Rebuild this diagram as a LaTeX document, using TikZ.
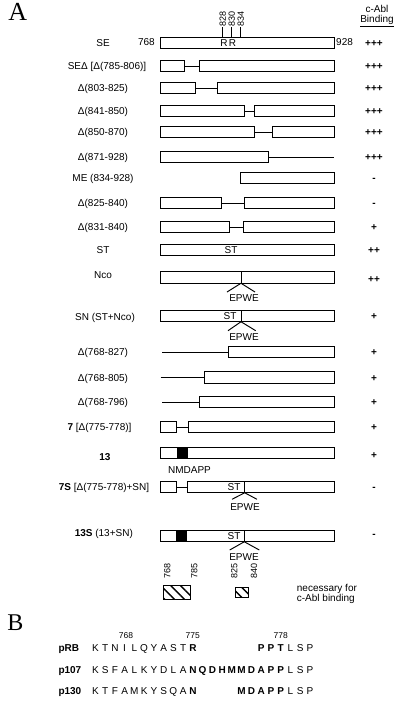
\documentclass[tikz,border=0pt]{standalone}
\usepackage{fontspec}
\setmainfont{Liberation Sans}
\newfontfamily\panelfont{Liberation Serif}
\usetikzlibrary{patterns.meta}
\tikzstyle{seg} = [rectangle, draw, line width=0.95pt, minimum height=11.5pt,
    inner sep=0pt, outer sep=0pt, anchor=west]
\tikzstyle{blk} = [seg, fill=black]
\tikzstyle{rowlabel} = [font=\fontsize{10}{12}\selectfont, text height=7.2pt,
    text depth=0pt, inner sep=0pt]
\tikzstyle{score} = [rowlabel, font=\fontsize{10}{12}\selectfont\bfseries]
\tikzstyle{resnum} = [font=\fontsize{9}{10}\selectfont, inner sep=0pt,
    rotate=90, anchor=west]
\tikzstyle{seqtext} = [rowlabel, anchor=west]
\tikzstyle{link} = [line width=0.95pt]
\tikzstyle{hatchbox} = [rectangle, draw, line width=0.95pt, inner sep=0pt,
    anchor=north west, pattern={Lines[angle=-45,distance=7pt,line width=1.4pt]}]
\newcommand{\rescol}[1]{\makebox[9.75pt]{#1}}

\begin{document}
\begin{tikzpicture}[x=1pt, y=-1pt]
		\useasboundingbox (0,0) rectangle (400,702);
		% panel letters
		\node [font=\panelfont\fontsize{26}{26}\selectfont, inner sep=0pt] (panelA) at (17.8,12) {A};
		\node [font=\panelfont\fontsize{24}{24}\selectfont, inner sep=0pt] (panelB) at (15.3,622.5) {B};

		% binding header
		\node [rowlabel] (hdrA) at (377,8.5) {c-Abl};
		\node [rowlabel] (hdrB) at (377,19) {\underline{Binding}};

		% SE
		\node [seg, minimum width=174pt] (se) at (160,43) {};
		\node [rowlabel] (seL) at (103,43) {SE};
		\node [rowlabel, anchor=east] (se768) at (155,41.5) {768};
		\node [rowlabel, anchor=west] (se928) at (336,41.5) {928};
		\node [rowlabel] (seR1) at (224,43) {R};
		\node [rowlabel] (seR2) at (232.5,43) {R};
		\node [resnum] (n828) at (222.7,27) {828};
		\node [resnum] (n830) at (231.7,27) {830};
		\node [resnum] (n834) at (240.7,27) {834};
		\draw [line width=0.7pt] (n828.west) -- (n828.west |- se.north);
		\draw [line width=0.7pt] (n830.west) -- (n830.west |- se.north);
		\draw [line width=0.7pt] (n834.west) -- (n834.west |- se.north);
		\node [score] (seB) at (374,43) {+++};

		% SE delta
		\node [seg, minimum width=24.3pt] (sed1) at (160,66) {};
		\node [seg, minimum width=135pt] (sed2) at (199,66) {};
		\draw [link] (sed1) -- (sed2);
		\node [rowlabel] (sedL) at (107,66) {SEΔ [Δ(785-806)]};
		\node [score] (sedB) at (374,66) {+++};

		% delta 803-825
		\node [seg, minimum width=35.3pt] (da1) at (160,88) {};
		\node [seg, minimum width=117pt] (da2) at (217,88) {};
		\draw [link] (da1) -- (da2);
		\node [rowlabel] (daL) at (103,88) {Δ(803-825)};
		\node [score] (daB) at (374,88) {+++};

		% delta 841-850
		\node [seg, minimum width=84pt] (db1) at (160,111) {};
		\node [seg, minimum width=79.3pt] (db2) at (254.7,111) {};
		\draw [link] (db1) -- (db2);
		\node [rowlabel] (dbL) at (103,111) {Δ(841-850)};
		\node [score] (dbB) at (374,111) {+++};

		% delta 850-870
		\node [seg, minimum width=94.3pt] (dc1) at (160,132) {};
		\node [seg, minimum width=61.7pt] (dc2) at (272.3,132) {};
		\draw [link] (dc1) -- (dc2);
		\node [rowlabel] (dcL) at (103,132) {Δ(850-870)};
		\node [score] (dcB) at (374,132) {+++};

		% delta 871-928
		\node [seg, minimum width=108.7pt] (dd1) at (160,157) {};
		\coordinate (ddEnd) at (334,157);
		\draw [link] (dd1) -- (ddEnd);
		\node [rowlabel] (ddL) at (103,157) {Δ(871-928)};
		\node [score] (ddB) at (374,157) {+++};

		% ME
		\node [seg, minimum width=93.7pt] (me) at (240.3,178) {};
		\node [rowlabel] (meL) at (103,178) {ME (834-928)};
		\node [score] (meB) at (374,178) {-};

		% delta 825-840
		\node [seg, minimum width=61.3pt] (de1) at (160,203) {};
		\node [seg, minimum width=89.7pt] (de2) at (244.3,203) {};
		\draw [link] (de1) -- (de2);
		\node [rowlabel] (deL) at (103,203) {Δ(825-840)};
		\node [score] (deB) at (374,203) {-};

		% delta 831-840
		\node [seg, minimum width=69.3pt] (df1) at (160,227) {};
		\node [seg, minimum width=90.3pt] (df2) at (243.7,227) {};
		\draw [link] (df1) -- (df2);
		\node [rowlabel] (dfL) at (103,227) {Δ(831-840)};
		\node [score] (dfB) at (374,227) {+};

		% ST
		\node [seg, minimum width=174pt] (st) at (160,250) {};
		\node [rowlabel] (stT) at (231,250) {ST};
		\node [rowlabel] (stL) at (103,250) {ST};
		\node [score] (stB) at (374,250) {++};

		% Nco
		\node [seg, minimum width=81pt] (nco1) at (160,277.5) {};
		\node [seg, minimum width=93pt] (nco2) at (241,277.5) {};
		\coordinate (ncoL) at (227,292);
		\coordinate (ncoR) at (255,292);
		\draw [link] (ncoL) -- (nco1.south east) -- (ncoR);
		\node [rowlabel] (ncoE) at (244,297.5) {EPWE};
		\node [rowlabel] (ncoN) at (103,275) {Nco};
		\node [score] (ncoB) at (374,278.5) {++};

		% SN
		\node [seg, minimum width=81pt] (sn1) at (160,316) {};
		\node [seg, minimum width=93pt] (sn2) at (241,316) {};
		\node [rowlabel] (snT) at (230,316) {ST};
		\coordinate (snL) at (228,330.7);
		\coordinate (snR) at (255.7,330.7);
		\draw [link] (snL) -- (sn1.south east) -- (snR);
		\node [rowlabel] (snE) at (244,337) {EPWE};
		\node [rowlabel] (snN) at (105,317) {SN (ST+Nco)};
		\node [score] (snB) at (374,316) {+};

		% delta 768-827
		\coordinate (dgStart) at (162,352);
		\node [seg, minimum width=105.3pt] (dg) at (228.7,352) {};
		\draw [link] (dgStart) -- (dg);
		\node [rowlabel] (dgL) at (103,352) {Δ(768-827)};
		\node [score] (dgB) at (374,352) {+};

		% delta 768-805
		\coordinate (dhStart) at (160.7,377.5);
		\node [seg, minimum width=129.7pt] (dh) at (204.3,377.5) {};
		\draw [link] (dhStart) -- (dh);
		\node [rowlabel] (dhL) at (103,377.5) {Δ(768-805)};
		\node [score] (dhB) at (374,377.5) {+};

		% delta 768-796
		\coordinate (diStart) at (162,402);
		\node [seg, minimum width=134.7pt] (di) at (199.3,402) {};
		\draw [link] (diStart) -- (di);
		\node [rowlabel] (diL) at (103,402) {Δ(768-796)};
		\node [score] (diB) at (374,402) {+};

		% 7
		\node [seg, minimum width=16pt] (sv1) at (160.3,427) {};
		\node [seg, minimum width=146pt] (sv2) at (188,427) {};
		\draw [link] (sv1) -- (sv2);
		\node [rowlabel] (svL) at (99.5,427) {\textbf{7} [Δ(775-778)]};
		\node [score] (svB) at (374,427) {+};

		% 13
		\node [seg, minimum width=173.3pt] (th) at (160.7,453) {};
		\node [blk, minimum width=10pt] (thBlk) at (177,453) {};
		\node [rowlabel] (thM) at (189.5,469.5) {NMDAPP};
		\node [rowlabel] (thL) at (105,457) {\textbf{13}};
		\node [score] (thB) at (374,455) {+};

		% 7S
		\node [seg, minimum width=15.6pt] (svs1) at (160.7,487) {};
		\node [seg, minimum width=57pt] (svs2) at (187.7,487) {};
		\node [seg, minimum width=89.3pt] (svs3) at (244.7,487) {};
		\draw [link] (svs1) -- (svs2);
		\node [rowlabel] (svsT) at (234,487) {ST};
		\coordinate (svsL) at (232,499.3);
		\coordinate (svsR) at (257,499.3);
		\draw [link] (svsL) -- (svs2.south east) -- (svsR);
		\node [rowlabel] (svsE) at (245,506.7) {EPWE};
		\node [rowlabel] (svsN) at (104,486.5) {\textbf{7S} [Δ(775-778)+SN]};
		\node [score] (svsB) at (374,487) {-};

		% 13S
		\node [seg, minimum width=15.6pt] (ths1) at (160.7,536) {};
		\node [blk, minimum width=9.7pt] (thsBlk) at (176.3,536) {};
		\node [seg, minimum width=58.3pt] (ths2) at (186,536) {};
		\node [seg, minimum width=89.7pt] (ths3) at (244.3,536) {};
		\node [rowlabel] (thsT) at (234,536) {ST};
		\coordinate (thsL) at (229.7,550);
		\coordinate (thsR) at (259.3,550);
		\draw [link] (thsL) -- (ths2.south east) -- (thsR);
		\node [rowlabel] (thsE) at (244,556.7) {EPWE};
		\node [rowlabel] (thsN) at (103.8,533.3) {\textbf{13S} (13+SN)};
		\node [score] (thsB) at (374,534) {-};

		% regions needed for binding
		\node [resnum] (h768) at (167.3,579) {768};
		\node [resnum] (h785) at (194.3,579) {785};
		\node [resnum] (h825) at (234.3,579) {825};
		\node [resnum] (h840) at (254,579) {840};
		\node [hatchbox, minimum width=27pt, minimum height=14pt] (hb1) at (163,584.3) {};
		\node [hatchbox, minimum width=13pt, minimum height=10pt] (hb2) at (235.3,587.3) {};
		\node [seqtext] (needA) at (296.7,587.5) {necessary for};
		\node [seqtext] (needB) at (296.7,597.5) {c-Abl binding};

		% panel B sequences
		\node [font=\fontsize{8.5}{10}\selectfont, inner sep=0pt] (b768) at (126,636) {768};
		\node [font=\fontsize{8.5}{10}\selectfont, inner sep=0pt] (b775) at (192.7,636) {775};
		\node [font=\fontsize{8.5}{10}\selectfont, inner sep=0pt] (b778) at (280.7,636) {778};

		\node [seqtext, font=\fontsize{10}{12}\selectfont\bfseries] (pRB) at (58.3,648.3) {pRB};
		\node [seqtext] (pRBa) at (90.3,648.3) {\rescol{K}\rescol{T}\rescol{N}\rescol{I}\rescol{L}\rescol{Q}\rescol{Y}\rescol{A}\rescol{S}\rescol{T}\rescol{\bfseries R}};
		\node [seqtext] (pRBb) at (256.05,648.3) {\rescol{\bfseries P}\rescol{\bfseries P}\rescol{\bfseries T}\rescol{L}\rescol{S}\rescol{P}};

		\node [seqtext, font=\fontsize{10}{12}\selectfont\bfseries] (p107) at (58.3,670) {p107};
		\node [seqtext] (p107a) at (90.3,670) {\rescol{K}\rescol{S}\rescol{F}\rescol{A}\rescol{L}\rescol{K}\rescol{Y}\rescol{D}\rescol{L}\rescol{A}\rescol{\bfseries N}\rescol{\bfseries Q}\rescol{\bfseries D}\rescol{\bfseries H}\rescol{\bfseries M}\rescol{\bfseries M}\rescol{\bfseries D}\rescol{\bfseries A}\rescol{\bfseries P}\rescol{\bfseries P}\rescol{L}\rescol{S}\rescol{P}};

		\node [seqtext, font=\fontsize{10}{12}\selectfont\bfseries] (p130) at (58.3,690.7) {p130};
		\node [seqtext] (p130a) at (90.3,690.7) {\rescol{K}\rescol{T}\rescol{F}\rescol{A}\rescol{M}\rescol{K}\rescol{Y}\rescol{S}\rescol{Q}\rescol{A}\rescol{\bfseries N}};
		\node [seqtext] (p130b) at (236.55,690.7) {\rescol{\bfseries M}\rescol{\bfseries D}\rescol{\bfseries A}\rescol{\bfseries P}\rescol{\bfseries P}\rescol{L}\rescol{S}\rescol{P}};
	\end{tikzpicture}
\end{document}
